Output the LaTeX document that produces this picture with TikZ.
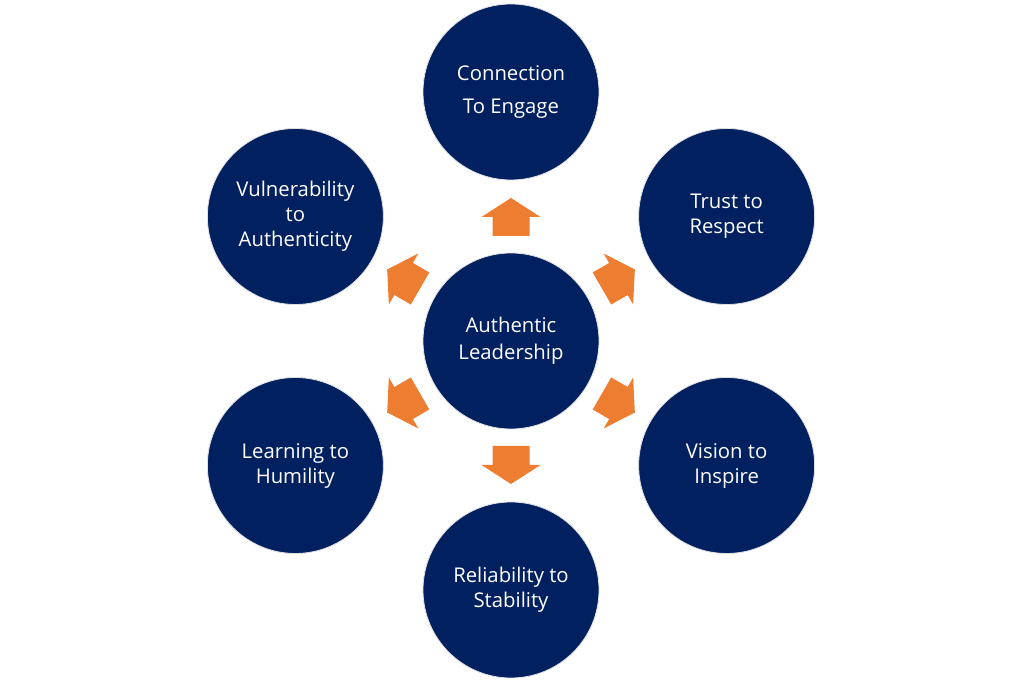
\documentclass[tikz,border=0pt]{standalone}
\usepackage{fontspec}
\setmainfont{Open Sans}
\usetikzlibrary{calc}
\definecolor{navy}{HTML}{002060}
\definecolor{orng}{HTML}{ED7D31}
\tikzset{
  bubble/.style={circle, fill=navy, draw=black!12, line width=0.8bp, minimum size=176bp, inner sep=0pt,
    text=white, align=center, font=\fontsize{20.3bp}{25bp}\selectfont},
  blockarrow/.style={fill=orng}
}
\begin{document}
\begin{tikzpicture}[x=1bp,y=1bp]
\useasboundingbox (0,0) rectangle (1024,683);
\coordinate (c) at (511,342);
\node[bubble, font=\fontsize{20.3bp}{27bp}\selectfont] (center) at (c) {Authentic\\Leadership};
\node[bubble, font=\fontsize{20.3bp}{33bp}\selectfont] (top) at ($(c)+(90:249)$) {Connection\\To Engage};
\node[bubble] (tr) at ($(c)+(30:249)$) {Trust to\\Respect};
\node[bubble] (br) at ($(c)+(-30:249)$) {Vision to\\Inspire};
\node[bubble] (bot) at ($(c)+(-90:249)$) {Reliability to\\Stability};
\node[bubble] (bl) at ($(c)+(-150:249)$) {Learning to\\Humility};
\node[bubble] (tl) at ($(c)+(150:249)$) {Vulnerability\\to\\Authenticity};
\foreach \a in {90,30,-30,-90,-150,150}{
  \fill[blockarrow, shift={(c)}, rotate=\a]
    (105,-18.5) -- (124,-18.5) -- (124,-29.5) -- (143,0) -- (124,29.5) -- (124,18.5) -- (105,18.5) -- cycle;
}
\end{tikzpicture}
\end{document}
